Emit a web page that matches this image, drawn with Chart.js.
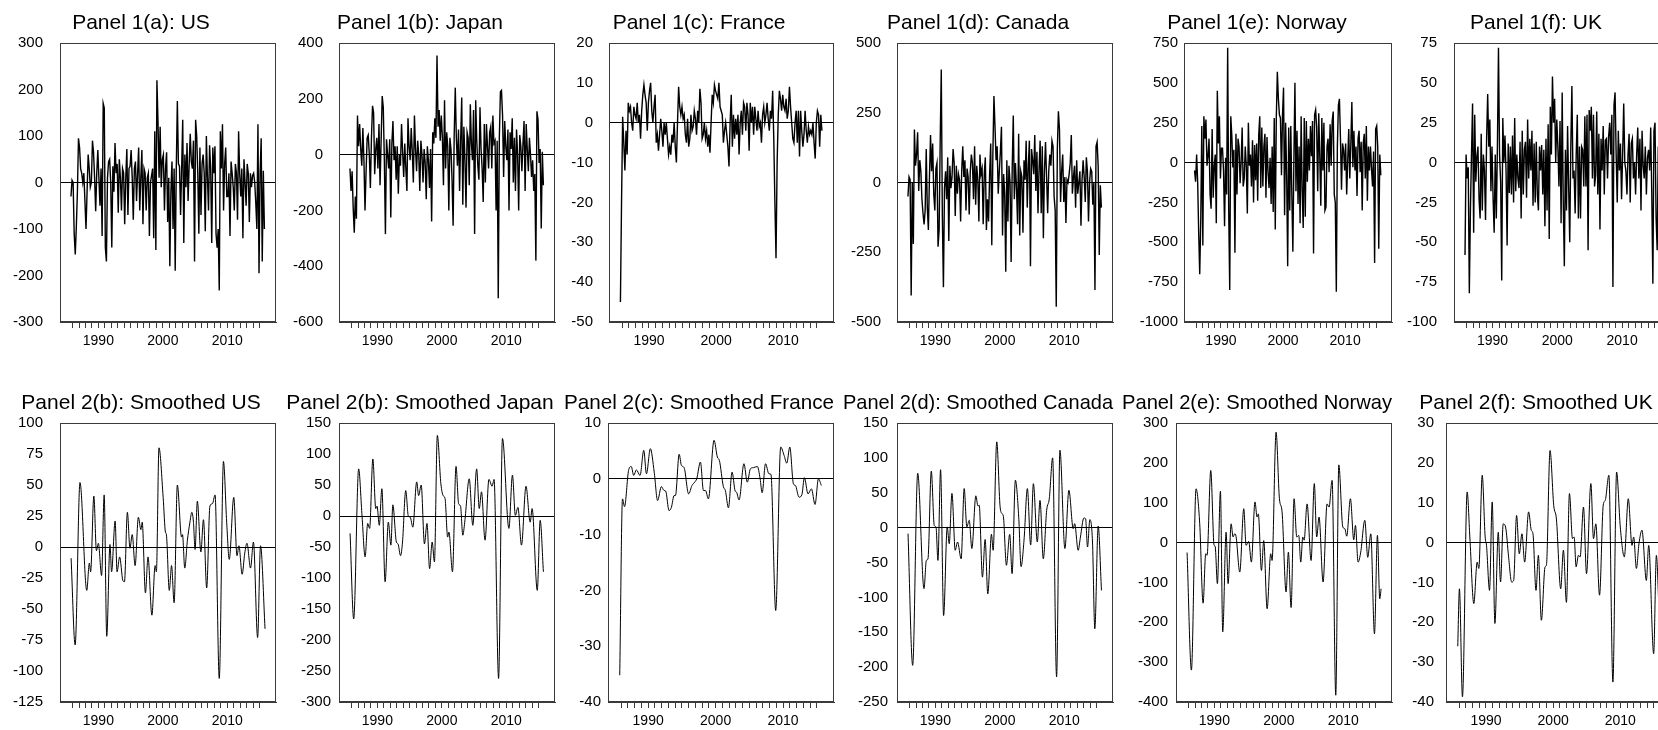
<!DOCTYPE html>
<html>
<head>
<meta charset="utf-8">
<script src="https://cdn.jsdelivr.net/npm/chart.js@4.4.1/dist/chart.umd.min.js"></script>
<style>
  html, body { margin: 0; padding: 0; background: #fff; overflow: hidden; width: 1658px; height: 730px; position: relative; }
  .cell { position: absolute; }
  .cell canvas { display: block; }
</style>
</head>
<body>
<script>
// ---- time axis -------------------------------------------------------------
// Raw series are sampled every two months starting late 1985.
const rawStart = 1985.75;
const rawStep = 1 / 6;
const yearTicks = [1986, 1987, 1988, 1989, 1990, 1991, 1992, 1993, 1994, 1995, 1996, 1997, 1998, 1999, 2000,
  2001, 2002, 2003, 2004, 2005, 2006, 2007, 2008, 2009, 2010, 2011, 2012, 2013, 2014, 2015];
const yearLabels = ['1990', '2000', '2010'];

// ---- Panel 1: raw series ----------------------------------------------------
const usRaw = [
  -30, 5, 0, -110, -155, -95, -20, 95, 75, 30,
  20, 0, 20, -40, -100, -20, 60, 30, -10, 0,
  90, 65, 10, -62, 20, 70, 10, -50, 30, -115,
  170, 160, -140, -170, 10, 45, 50, 0, -140, 35,
  -20, 85, 20, 40, -65, 50, 10, -60, 30, 20,
  -90, 10, 72, -70, 30, 35, 70, 10, -80, 30,
  45, -40, 20, 75, -60, 10, 70, -90, 30, 20,
  -60, 10, 20, -115, 0, 15, 30, -120, 110, -145,
  220, 130, 10, 120, -10, 50, 60, -60, 30, 65,
  -85, 10, -180, -20, 45, -100, 30, -190, 30, 175,
  40, 35, -70, 30, 135, -130, 60, -10, 85, -40,
  40, 105, 45, 30, 90, -170, 135, 100, 20, -110,
  75, -70, 40, 60, 20, -105, 100, 10, -60, 80,
  30, -130, 75, 20, 78, -110, -140, -100, -232, 110,
  30, 125, -60, 40, 75, -30, -30, 20, -115, 45,
  20, -10, -60, 40, 20, -80, 110, 20, -30, 30,
  -120, 50, 0, -50, 40, 20, -85, 20, -10, 15,
  20, 0, -45, -100, 125, -195, 20, 95, -170, 25,
  -100
];
const japanRaw = [
  -50, -130, -60, -190, -280, -150, -230, 140, 30, 110,
  20, -40, 95, -20, -200, -60, 60, 70, 0, -120,
  60, 175, 150, -70, 20, 60, -50, 110, -110, 50,
  210, 170, -20, -285, 55, 0, -50, 55, -225, 40,
  120, -20, 30, -90, 30, -140, 0, -40, 110, 10,
  -80, 40, -50, -130, 130, 30, -20, 95, 10, -100,
  140, 20, -60, 50, 0, -130, 50, 0, -100, 20,
  -30, -160, 30, -20, -120, 20, -240, 80, 40, 130,
  60, 355, 100, 160, 50, 140, 60, -110, 195, -50,
  80, 30, -200, 60, 20, -90, -255, 70, 240, 60,
  -40, 90, -130, 50, 205, -180, 100, -20, -190, 80,
  60, -110, 180, 40, -20, 160, -285, 195, 50, -40,
  -90, 170, 20, -50, -170, 110, -100, 110, 30, -50,
  80, 100, -50, 140, 40, 50, -200, 50, -515, 60,
  225, 230, 140, -80, 120, 30, -20, 90, -200, 80,
  20, 130, -100, 60, -130, 90, 0, -200, 70, 30,
  -60, 40, 120, -130, 110, 20, -60, 60, 0, -80,
  -20, -130, -70, -380, 155, 125, -30, 20, -265, 10,
  -110
];
const franceRaw = [
  -45, -20, 1.5, -5, -12, -2, -8, 5, 3, 4,
  0, -2, 4, 2, 1, 5, 0, 2, -4, 3,
  7, 9.5, 7, 5, -2, 5, 8, 10, 3, 0,
  4, 7, -5, -3, -7, -3, 1, -2, -6, 0,
  -3, 0, -4, -8, -6, -8, -3, -5, 0, -6,
  -10, 0, 9, 4, 2, 4, 1, 2, -3, -5,
  1, -6, -4, 2, -2, -1, 3, 1, -3, 3,
  0, 8.5, 5, -4, -3, 0, -4, -2, -6, -3,
  -7.5, 0, 7, 5, 9.5, 8, 7, 6, 10, 4,
  3, 2, -5, -2, 0, -3, -6, -11, 0, 7,
  -6, 2, -4, 1, -3, 2, -8, 0, 3, -3,
  5, 4, -2, 5, 2, -7, 5, 0, 4, -3,
  4, 1, -2, 3, -1, 0, -5, 2, 4, 0,
  2, 5, 1, -2, 3, 1, 8, -4, -20, -34,
  -10, 2, 8, 6, 3, 7, 4, 3, 6, 1,
  3, 9, 4, 0, -4, -5, 0, 3, -5, 3,
  -8.5, 3, -2, -6, -3, 3, -2, -5, -1, -3,
  -2, -3, 0, -5, -9, 0, 3, 2, -6, 2,
  -2
];
const canadaRaw = [
  -50, 20, 10, -405, 0, -220, 190, 60, 100, 180,
  -30, 80, 40, -60, -110, -150, -100, 120, -90, -170,
  20, 170, 40, 140, -40, -100, 50, 70, -230, -170,
  150, 405, -120, -375, -20, 40, -60, 90, -210, 60,
  -20, 20, 120, 70, -120, 60, -40, 30, 10, -140,
  40, 130, 20, 80, -100, 50, 20, -115, 40, 100,
  70, -60, 130, -80, 60, 10, -140, 100, 30, 50,
  -150, 30, 90, -170, -60, -140, 30, 140, -225, 100,
  310, 200, 80, 130, -40, 40, 110, 200, -190, 30,
  -40, -320, 80, -140, 60, 0, -285, 50, 240, -60,
  70, -20, -150, 175, -190, 40, 20, -180, 80, 10,
  150, -90, 60, 150, -300, 120, 80, 30, 170, -30,
  110, -110, 50, 150, -110, 130, -200, 40, 145, 20,
  -110, 40, 100, 60, 150, 130, -50, -100, -445, 120,
  255, 190, -70, 40, 100, -70, 20, -145, 10, 0,
  30, 70, 170, -40, 20, 60, -90, 80, -40, 0,
  40, -155, 10, 80, 20, -70, 90, 40, -140, 0,
  50, 40, -80, 0, -385, 130, 145, 60, -260, -10,
  -90
];
const norwayRaw = [
  -50, -120, 50, -120, -440, -700, -360, 230, -520, 290,
  150, 270, -20, 40, 150, -200, -290, 210, -220, -20,
  50, -380, 450, 120, 290, -100, 90, 90, -50, -400,
  30, -200, 720, -300, -800, 290, 170, -30, 80, -565,
  180, -200, 150, 100, -130, 0, 220, -150, -100, 100,
  -20, -320, 250, -20, 50, -150, 140, -250, 110, -110,
  120, -240, 170, 290, -160, 220, -150, 100, 180, -220,
  160, -60, -160, 30, -260, 100, -310, 280, -420, 280,
  570, 400, 300, 280, -80, 300, 470, -330, 250, -80,
  -650, 220, -300, 230, -200, -560, 20, 500, -180, 200,
  -260, 100, -380, 290, -180, -410, 280, -340, 260, -120,
  150, -50, 230, 40, 260, -570, 300, 330, 220, -180,
  310, 40, -270, 280, -50, 250, -300, -280, 100, 150,
  -60, 240, -20, 260, 320, -200, -250, -810, 100, 360,
  400, 150, -170, 120, 80, -50, 120, -200, 10, 210,
  -100, 110, 380, -30, 200, -50, 100, -210, 150, 200,
  -60, 130, -300, 120, 180, -100, 230, -240, 100, -50,
  100, -40, -150, 70, -630, 210, 230, 100, -540, 50,
  -80
];
const ukRaw = [
  -58, 5, -10, -3, -82, -30, 5, 37, -44, 30,
  -12, 4, 10, -23, -35, 18, -30, 5, -5, -36,
  15, 43, 10, 27, -18, 10, -22, -44, 5, -35,
  10, 72, 5, -12, -74, 28, 0, 17, -5, -52,
  12, -19, 10, -20, 17, -25, 28, -18, 5, -10,
  -16, 13, -35, 20, -20, 8, 13, -22, 27, -10,
  15, -5, 20, -27, 12, -25, 13, -20, -30, 10,
  -5, 11, -20, 8, -40, 15, -30, 24, -48, 35,
  5, 54, 25, 40, 0, 27, 10, -15, 26, -38,
  44, -25, -65, 8, -30, 23, -15, -50, 10, 48,
  -10, -5, -32, 5, 30, -35, 10, -35, 10, 8,
  -15, 29, -15, 30, -55, 33, 20, 35, -10, 30,
  -15, -8, 32, -20, 18, -42, 15, -5, 23, -20,
  14, 15, -10, 16, 25, 5, 30, -78, 36, 44,
  5, -25, 20, -5, 12, -23, 5, 37, 0, -5,
  -20, 5, 18, -25, 12, 15, -10, 0, -20, 5,
  22, -10, 15, -30, 20, -2, -10, 10, -20, 3,
  8, -5, 22, -20, -76, 20, 25, -35, -55, 10,
  -20
];

// ---- Panel 2: smoothed series (dates in decimal years, values) --------------
const usSmoothDates = [1985.77, 1986.4, 1987.15, 1988.2, 1988.6, 1988.8, 1989.3, 1989.7, 1990.0, 1990.5,
  1990.9, 1991.3, 1991.8, 1992.05, 1992.6, 1992.9, 1993.3, 1993.8, 1994.05, 1994.5,
  1994.9, 1995.25, 1995.7, 1996.2, 1996.6, 1996.8, 1997.3, 1997.7, 1998.3, 1998.8,
  1999.0, 1999.4, 2000.05, 2000.4, 2000.55, 2001.0, 2001.35, 2001.75, 2002.25, 2002.9,
  2003.05, 2003.4, 2003.8, 2004.2, 2004.5, 2004.75, 2005.0, 2005.35, 2005.9, 2006.3,
  2006.8, 2007.3, 2007.7, 2008.1, 2008.75, 2009.4, 2009.9, 2010.3, 2011.0, 2011.5,
  2011.8, 2012.3, 2012.7, 2013.05, 2013.6, 2014.05, 2014.7, 2015.15, 2015.85];
const usSmoothValues = [-9, -79, 52, -35, -13, -20, 41, -3, 3, -23,
  42, -72, 2, -20, 21, -20, -8, -27, -28, 28,
  -1, 10, -15, 24, 14, 20, -37, -8, -55, -15,
  -20, 80, 40, 12, 10, -35, -15, -45, 50, 8,
  10, -17, 5, 20, 28, 20, -2, 37, -4, 22,
  -33, 33, 35, 42, -106, 69, 20, -10, 40, -7,
  1, -22, -5, 3, -17, 4, -73, 1, -66];

const japanSmoothDates = [1985.77, 1986.33, 1987.1, 1987.6, 1988.1, 1988.5, 1988.8, 1989.3, 1989.75, 1989.95,
  1990.3, 1990.7, 1991.2, 1991.7, 1992.1, 1992.4, 1992.95, 1993.2, 1993.6, 1993.9,
  1994.4, 1994.8, 1995.1, 1995.5, 1996.1, 1996.4, 1996.8, 1997.3, 1997.7, 1998.1,
  1998.5, 1998.85, 1999.3, 1999.85, 2000.2, 2000.5, 2000.9, 2001.1, 2001.65, 2002.2,
  2002.6, 2002.9, 2003.25, 2003.55, 2004.25, 2004.8, 2005.4, 2005.8, 2006.15, 2006.7,
  2007.3, 2007.8, 2008.1, 2008.8, 2009.4, 2010.4, 2010.95, 2011.4, 2011.8, 2012.35,
  2013.05, 2013.7, 2014.0, 2014.8, 2015.25, 2015.75];
const japanSmoothValues = [-28, -166, 76, 4, -66, -12, -20, 92, 12, 16,
  -15, 44, -106, -10, -47, 18, -42, -45, -64, -42,
  41, 0, -2, -18, 55, 33, 50, -45, -12, -85,
  -42, -74, 130, 52, 33, 28, -34, -26, -90, 80,
  20, 16, -31, -10, 60, -15, 76, 12, 39, -39,
  59, 48, 59, -262, 125, -20, 66, 1, 14, -47,
  48, -10, 12, -120, -7, -90];

const franceSmoothDates = [1985.79, 1986.2, 1986.5, 1987.1, 1987.5, 1987.86, 1988.26, 1988.8, 1989.35, 1989.75,
  1990.33, 1990.9, 1991.4, 1991.96, 1992.36, 1992.6, 1993.1, 1993.45, 1993.85, 1994.05,
  1994.6, 1994.93, 1995.33, 1996.0, 1996.5, 1996.9, 1997.2, 1997.75, 1998.2, 1998.5,
  1998.93, 1999.77, 2000.26, 2000.56, 2001.15, 2001.45, 2001.9, 2002.44, 2002.9, 2003.1,
  2003.48, 2004.2, 2004.7, 2005.16, 2005.6, 2006.2, 2006.6, 2006.9, 2007.4, 2007.9,
  2008.2, 2008.91, 2009.65, 2010.15, 2010.55, 2011.0, 2011.53, 2011.83, 2012.37, 2012.8,
  2013.16, 2013.7, 2014.2, 2014.74, 2015.24, 2015.68];
const franceSmoothValues = [-35.2, -3.6, -5, 1.5, 2.2, 0.6, 1.6, 0.6, 5.1, 0.9,
  5.4, 1.2, -3.9, -1.4, -2.1, -2.2, -5.7, -5.1, -3, -3,
  4.4, 2.4, 2, -2.7, -1.2, -0.6, 0, 3, -2.1, -2.1,
  -3.6, 6.9, 3.9, 3.3, -1.4, -2.1, -5.2, 1.2, -2.2, -2.4,
  -3.8, 2.7, -0.6, 1.8, 2, 2.2, 0, -2.5, 2.7, 0.9,
  0.8, -23.6, 5.7, 4.2, 2.8, 5.7, -0.9, -1.2, -3.3, -2.8,
  0.2, -2.7, -1.8, -4.6, 0, -1.2];

const canadaSmoothDates = [1985.76, 1986.48, 1987.26, 1988.24, 1988.6, 1988.85, 1989.37, 1989.83, 1990.1, 1990.4,
  1990.81, 1991.28, 1991.84, 1992.15, 1992.57, 1993.08, 1993.44, 1994.0, 1994.47, 1994.88,
  1995.25, 1995.66, 1996.28, 1996.6, 1996.8, 1997.3, 1997.72, 1998.13, 1998.7, 1998.96,
  1999.52, 2000.04, 2000.35, 2000.55, 2001.02, 2001.53, 2001.9, 2002.41, 2002.93, 2003.29,
  2003.75, 2004.27, 2004.78, 2005.2, 2005.81, 2006.23, 2006.74, 2007.26, 2007.67, 2008.19,
  2008.8, 2009.32, 2010.09, 2010.71, 2011.38, 2011.6, 2012.15, 2012.5, 2013.03, 2013.3,
  2013.6, 2013.96, 2014.37, 2014.73, 2015.25, 2015.76];
const canadaSmoothValues = [-8.6, -197.5, 78, -87.5, -47, -45, 81, 3, 1, -47,
  83, -126, 1, -23, 49, -32.5, -20.6, -44.7, 56, 1,
  10.5, -30, 45.6, 31, 32, -71, -17, -95, -9.6, -32.5,
  123, 30, 20, 16, -54, -9.6, -66, 68, 15, -56,
  -18, 56, -25, 63, -20.6, 39, -44.7, 24.6, 41.5, 100,
  -214, 111, -30, 53.5, -1.5, 5.7, -32.5, -13.4, 13.8, 12.8,
  -27.8, 11.5, -20.6, -145, 2.3, -90];

const norwaySmoothDates = [1985.77, 1986.44, 1987.16, 1987.73, 1988.25, 1988.66, 1988.87, 1989.44, 1989.96, 1990.12,
  1990.47, 1990.94, 1991.3, 1991.82, 1992.13, 1992.6, 1992.9, 1993.16, 1993.37, 1993.94,
  1994.56, 1994.92, 1995.33, 1995.74, 1996.3, 1996.62, 1996.82, 1997.3, 1997.66, 1998.18,
  1998.74, 1998.95, 1999.57, 2000.09, 2000.5, 2001.12, 2001.48, 2001.9, 2002.36, 2002.78,
  2003.09, 2003.4, 2003.71, 2003.92, 2004.38, 2005.0, 2005.5, 2005.87, 2006.24, 2006.86,
  2007.48, 2007.79, 2008.26, 2008.83, 2009.3, 2009.92, 2010.23, 2010.53, 2011.1, 2011.62,
  2011.88, 2012.29, 2012.7, 2013.33, 2013.79, 2014.26, 2014.83, 2015.29, 2015.65, 2015.86];
const norwaySmoothValues = [-25, -320, 135, 47, -152, -28, -32, 181, -7, -9,
  -103, 129, -224, 26, -103, 47, 14, 22, 15, -74,
  85, -7, 3, -49, 102, 64, 72, -70, 5, -166,
  -28, -45, 277, 110, 77, -124, -24, -163, 110, 14,
  18, -49, 14, 6, 97, -45, 148, 14, 64, -99,
  97, 89, 156, -383, 195, 39, 35, 16, 110, 7,
  43, -49, -24, 56, -37, 22, -229, 18, -141, -116];

const ukSmoothDates = [1985.8, 1986.05, 1986.5, 1987.2, 1987.6, 1988.19, 1988.69, 1988.94, 1989.44, 1989.88,
  1990.08, 1990.53, 1990.93, 1991.33, 1991.83, 1992.17, 1992.57, 1992.92, 1993.37, 1993.82,
  1994.12, 1994.56, 1994.96, 1995.36, 1995.76, 1996.35, 1996.75, 1997.0, 1997.45, 1997.8,
  1998.25, 1998.8, 1999.0, 1999.54, 2000.09, 2000.49, 2001.13, 2001.53, 2001.98, 2002.43,
  2002.88, 2003.13, 2003.42, 2003.77, 2004.02, 2004.52, 2004.97, 2005.62, 2006.01, 2006.36,
  2006.91, 2007.46, 2007.76, 2008.3, 2008.9, 2009.45, 2010.0, 2010.6, 2011.19, 2011.74,
  2011.99, 2012.4, 2012.78, 2013.23, 2013.88, 2014.23, 2014.97, 2015.37, 2015.77];
const ukSmoothValues = [-26, -11.6, -38.7, 12.7, 1.4, -15.3, -4.9, -6.5, 16.9, 1.4,
  -0.7, -12, 10.2, -20.3, 2.6, -9.9, 4.7, 3.9, -3.6, -9.9,
  -9.5, 6.8, -2.8, 2.2, -4.9, 7.7, 3.1, 2.2, -12, -3.2,
  -19.5, -6.1, -5.7, 23.1, 9.3, 5.9, -11.6, -1.9, -15, 12.3,
  1, 1.4, -6.1, -3.2, -3.6, 8.9, -7.8, 14.8, 1, 4.7,
  -13.2, 9.4, 10.6, 16.9, -35, 17.7, 3.9, -3.6, 11, -0.7,
  1.4, -6.5, -0.3, 3.1, -9.5, -0.7, -27.9, -3.2, -17];

// ---- panel layout ----------------------------------------------------------
const FONT = "'Liberation Sans', Arial, Helvetica, sans-serif";
const CELL_W = 279;       // column pitch
const ROW_TOP = [0, 380]; // canvas top of each row
const EXTRA = 10;         // canvas overhang on each side so long titles are not clipped
const PAD_L = EXTRA + 6;  // left layout padding (centres the title over the panel)
const CANVAS_H = 350;

function rawPoints(values) {
  return values.map((v, i) => ({ x: rawStart + i * rawStep, y: v }));
}
function pairPoints(dates, values) {
  return dates.map((d, i) => ({ x: d, y: values[i] }));
}

// axisW: distance from the panel's left edge to the plotting area; gap: label-to-axis spacing
const panels = [
  { title: 'Panel 1(a): US',     row: 0, col: 0, min: -300,  max: 300, step: 100, axisW: 60, gap: 17, pts: rawPoints(usRaw),     smooth: false },
  { title: 'Panel 1(b): Japan',  row: 0, col: 1, min: -600,  max: 400, step: 200, axisW: 60, gap: 16, pts: rawPoints(japanRaw),  smooth: false },
  { title: 'Panel 1(c): France', row: 0, col: 2, min: -50,   max: 20,  step: 10,  axisW: 51, gap: 16, pts: rawPoints(franceRaw), smooth: false },
  { title: 'Panel 1(d): Canada', row: 0, col: 3, min: -500,  max: 500, step: 250, axisW: 60, gap: 16, pts: rawPoints(canadaRaw), smooth: false },
  { title: 'Panel 1(e): Norway', row: 0, col: 4, min: -1000, max: 750, step: 250, axisW: 68, gap: 6,  pts: rawPoints(norwayRaw), smooth: false },
  { title: 'Panel 1(f): UK',     row: 0, col: 5, min: -100,  max: 75,  step: 25,  axisW: 59, gap: 17, pts: rawPoints(ukRaw),     smooth: false },
  { title: 'Panel 2(b): Smoothed US',     row: 1, col: 0, min: -125, max: 100, step: 25,  axisW: 60, gap: 17, pts: pairPoints(usSmoothDates, usSmoothValues),         smooth: true },
  { title: 'Panel 2(b): Smoothed Japan',  row: 1, col: 1, min: -300, max: 150, step: 50,  axisW: 60, gap: 8,  pts: pairPoints(japanSmoothDates, japanSmoothValues),   smooth: true },
  { title: 'Panel 2(c): Smoothed France', row: 1, col: 2, min: -40,  max: 10,  step: 10,  axisW: 50, gap: 7,  pts: pairPoints(franceSmoothDates, franceSmoothValues), smooth: true },
  { title: 'Panel 2(d): Smoothed Canada', row: 1, col: 3, min: -250, max: 150, step: 50,  axisW: 60, gap: 9,  pts: pairPoints(canadaSmoothDates, canadaSmoothValues), smooth: true },
  { title: 'Panel 2(e): Smoothed Norway', row: 1, col: 4, min: -400, max: 300, step: 100, axisW: 60, gap: 8,  pts: pairPoints(norwaySmoothDates, norwaySmoothValues), smooth: true },
  { title: 'Panel 2(f): Smoothed UK',     row: 1, col: 5, min: -40,  max: 30,  step: 10,  axisW: 51, gap: 12, pts: pairPoints(ukSmoothDates, ukSmoothValues),         smooth: true }
];

// box around each plotting area
const framePlugin = {
  id: 'frame',
  afterDatasetsDraw(chart) {
    const a = chart.chartArea;
    const ctx = chart.ctx;
    ctx.save();
    ctx.strokeStyle = '#3a3a3a';
    ctx.lineWidth = 1;
    ctx.strokeRect(Math.round(a.left) + 0.5, Math.round(a.top) + 0.5,
                   Math.round(a.right - a.left) - 1, Math.round(a.bottom - a.top) - 1);
    ctx.restore();
  }
};

panels.forEach(p => {
  const div = document.createElement('div');
  div.className = 'cell';
  const left = p.col * CELL_W - EXTRA;
  const width = CELL_W + 2 * EXTRA;
  div.style.left = left + 'px';
  div.style.top = ROW_TOP[p.row] + 'px';
  const canvas = document.createElement('canvas');
  canvas.width = width;
  canvas.height = CANVAS_H;
  canvas.style.width = width + 'px';
  canvas.style.height = CANVAS_H + 'px';
  div.appendChild(canvas);
  document.body.appendChild(div);

  new Chart(canvas.getContext('2d'), {
    type: 'line',
    data: {
      datasets: [{
        data: p.pts,
        borderColor: '#000',
        borderWidth: p.smooth ? 1 : 1.4,
        pointRadius: 0,
        fill: false,
        tension: 0,
        cubicInterpolationMode: p.smooth ? 'monotone' : 'default'
      }]
    },
    options: {
      responsive: false,
      animation: false,
      devicePixelRatio: 1,
      events: [],
      layout: { padding: { left: PAD_L, right: EXTRA + 3, top: 0, bottom: 0 } },
      plugins: {
        legend: { display: false },
        tooltip: { enabled: false },
        title: {
          display: true,
          text: p.title,
          color: '#000',
          font: { family: FONT, size: 21, weight: 'normal', lineHeight: 1.2 },
          padding: { top: 11, bottom: 6.8 }
        }
      },
      scales: {
        x: {
          type: 'linear',
          min: 1984.05,
          max: 2017.55,
          afterBuildTicks(scale) { scale.ticks = yearTicks.map(v => ({ value: v })); },
          afterFit(scale) { scale.height = 28; },
          ticks: {
            autoSkip: false,
            maxRotation: 0,
            padding: 5,
            color: '#000',
            font: { family: FONT, size: 14 },
            callback: v => (yearLabels.includes(String(v)) ? String(v) : '')
          },
          grid: { drawOnChartArea: false, drawTicks: true, tickLength: 6, tickColor: '#3a3a3a' },
          border: { display: true, color: '#3a3a3a', width: 1 }
        },
        y: {
          type: 'linear',
          min: p.min,
          max: p.max,
          afterFit(scale) { scale.width = p.axisW + EXTRA - PAD_L; },
          ticks: {
            stepSize: p.step,
            padding: p.gap,
            color: '#000',
            font: { family: FONT, size: 15 },
            callback: v => String(v)
          },
          grid: {
            drawOnChartArea: true,
            drawTicks: false,
            color: c => (c.tick && c.tick.value === 0 ? '#000' : 'rgba(0,0,0,0)')
          },
          border: { display: true, color: '#3a3a3a', width: 1 }
        }
      }
    },
    plugins: [framePlugin]
  });
});
</script>
</body>
</html>
